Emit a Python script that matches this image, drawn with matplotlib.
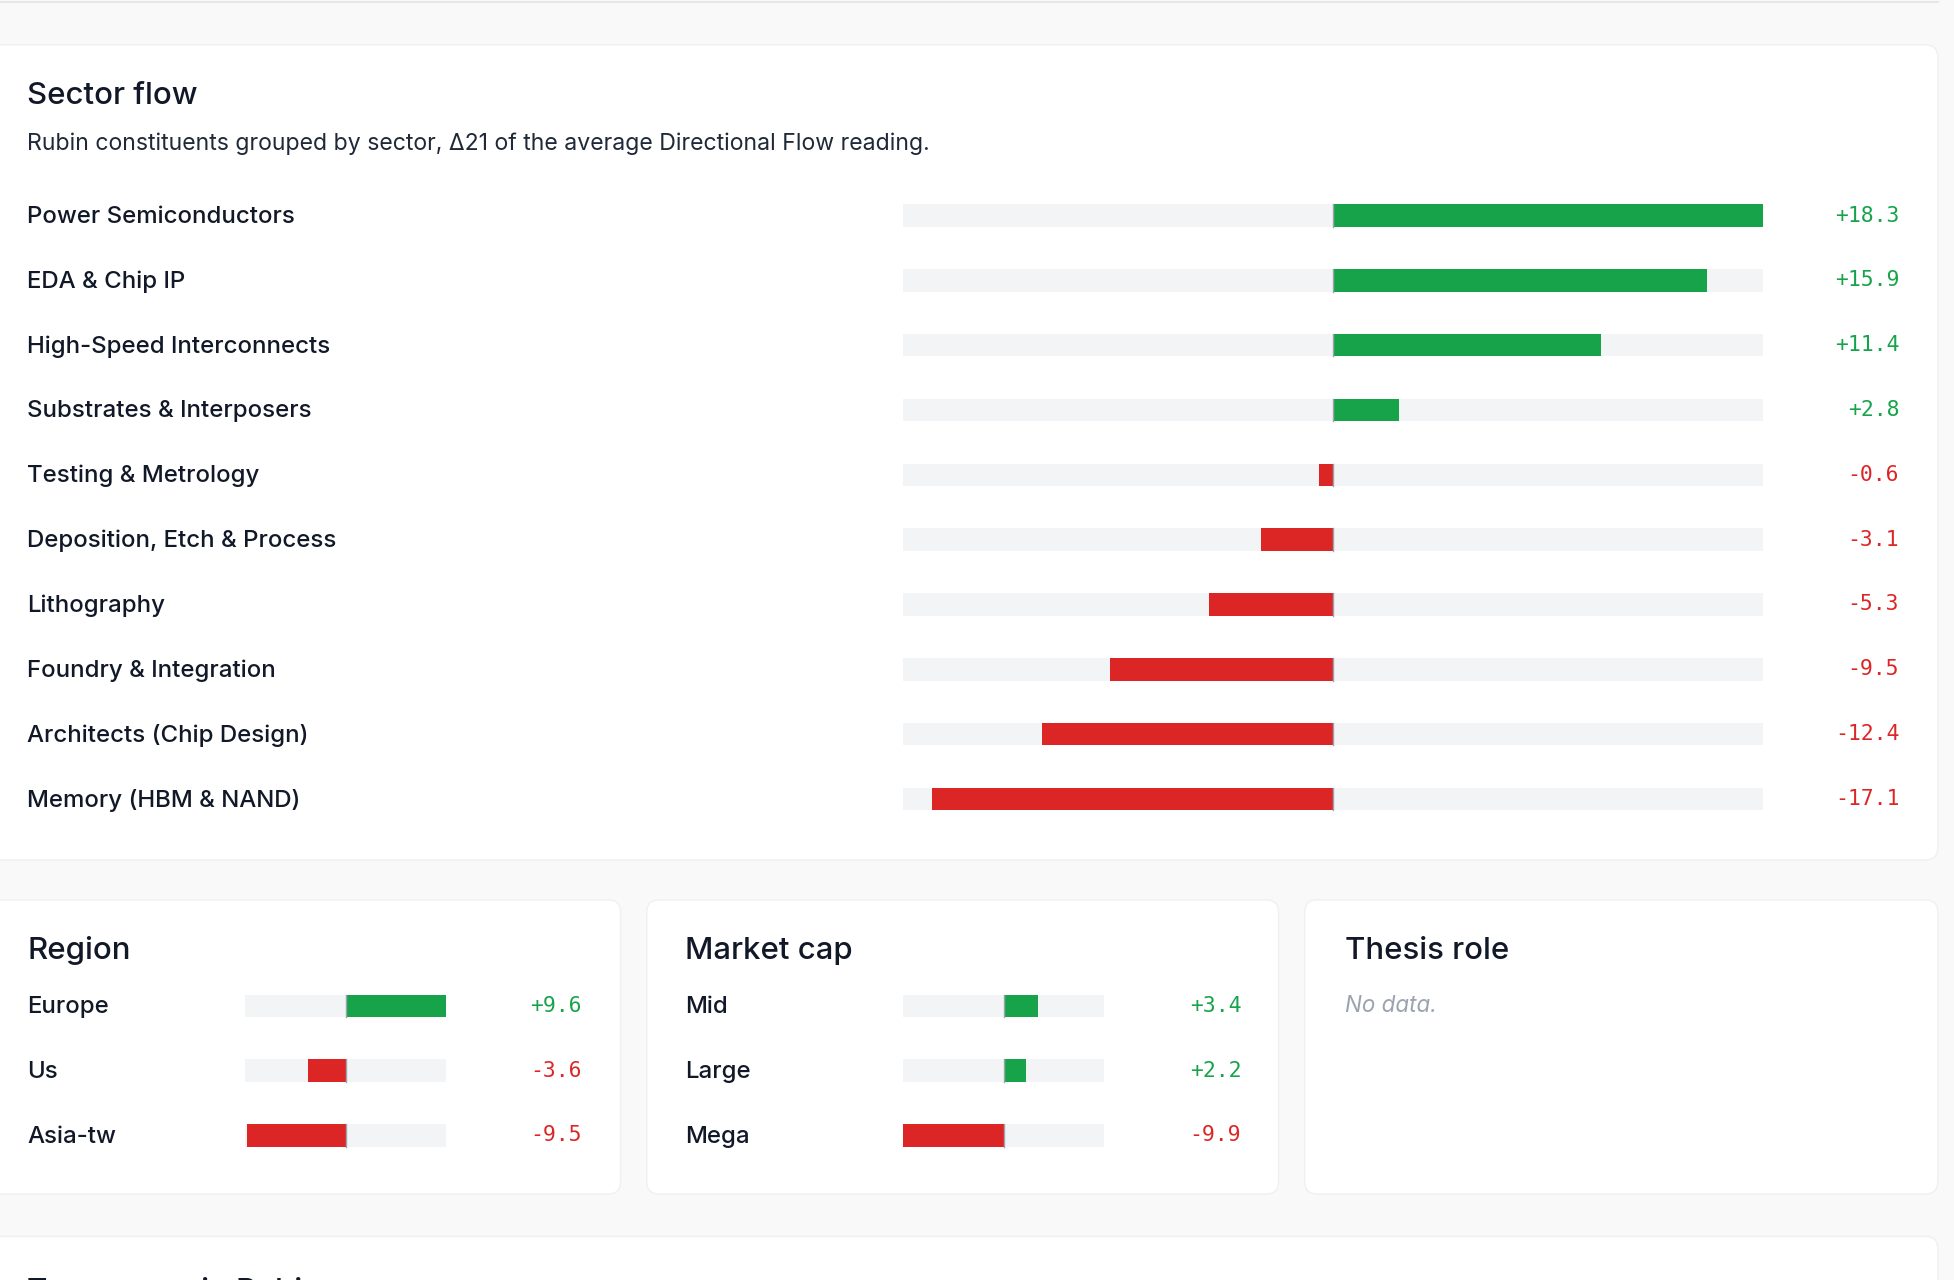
import matplotlib
matplotlib.use("Agg")
import matplotlib.pyplot as plt
from matplotlib.patches import FancyBboxPatch
from matplotlib.transforms import blended_transform_factory

sector_labels = ["Power Semiconductors", "EDA & Chip IP", "High-Speed Interconnects",
                 "Substrates & Interposers", "Testing & Metrology", "Deposition, Etch & Process",
                 "Lithography", "Foundry & Integration", "Architects (Chip Design)", "Memory (HBM & NAND)"]
sector_values = [18.3, 15.9, 11.4, 2.8, -0.6, -3.1, -5.3, -9.5, -12.4, -17.1]
region_labels = ["Europe", "Us", "Asia-tw"]
region_values = [9.6, -3.6, -9.5]
mcap_labels = ["Mid", "Large", "Mega"]
mcap_values = [3.4, 2.2, -9.9]

W, H = 1568, 1027
GREEN, RED, TRACK = "#16a34a", "#dc2626", "#f3f4f6"
FONT = "Inter"
fig = plt.figure(figsize=(19.54, 12.80), dpi=100)
fig.patch.set_facecolor("#f9f9f9")
bg = fig.add_axes([0, 0, 1, 1])
bg.set_xlim(0, W); bg.set_ylim(H, 0); bg.axis("off")

def card(x0, y0, x1, y1):
    bg.add_patch(FancyBboxPatch((x0, y0), x1 - x0, y1 - y0, boxstyle="round,pad=0,rounding_size=10",
                                fc="white", ec="#f0f0f0", lw=1))
card(-20, 36, 1555, 690)
card(-20, 722, 498, 958)
card(519, 722, 1026, 958)
card(1047, 722, 1555, 958)
card(-20, 992, 1555, 1100)
bg.plot([0, 1555], [2, 2], color="#e5e7eb", lw=1.5)

def fs(px):  # display px -> points
    return px * 1.246 * 0.72

bg.text(22, 77, "Sector flow", fontsize=fs(25), family=FONT, weight="medium", va="center", color="#111827")
bg.text(22, 115, "Rubin constituents grouped by sector, Δ21 of the average Directional Flow reading.",
        fontsize=fs(18.5), family=FONT, va="center", color="#1f2937")
bg.text(22, 763, "Region", fontsize=fs(25), family=FONT, weight="medium", va="center", color="#111827")
bg.text(550, 763, "Market cap", fontsize=fs(25), family=FONT, weight="medium", va="center", color="#111827")
bg.text(1079, 763, "Thesis role", fontsize=fs(25), family=FONT, weight="medium", va="center", color="#111827")
bg.text(1079, 807, "No data.", fontsize=fs(18), family=FONT, style="italic", va="center", color="#9ca3af")
bg.text(22, 1036, "Top names in Rubin", fontsize=fs(25), family=FONT, weight="medium", va="center", color="#111827")

def group(labels, values, track_x0, track_x1, y_first, spacing, label_x, value_x):
    n = len(labels)
    top = y_first - spacing / 2
    bottom = y_first + spacing * (n - 0.5)
    ax = fig.add_axes([track_x0 / W, 1 - bottom / H, (track_x1 - track_x0) / W, (bottom - top) / H])
    m = max(abs(v) for v in values)
    ax.set_xlim(-m, m); ax.set_ylim(n - 0.5, -0.5); ax.axis("off")
    h = 18 / spacing
    ys = list(range(n))
    ax.barh(ys, [2 * m] * n, left=-m, height=h, color=TRACK)
    ax.barh(ys, values, height=h, color=[GREEN if v >= 0 else RED for v in values])
    for y in ys:
        ax.plot([0, 0], [y - h / 2, y + h / 2], color="#9ca3af", lw=1)
    tr = blended_transform_factory(bg.transData, ax.transData)
    for y, lab, v in zip(ys, labels, values):
        bg.text(label_x, y + 0.02, lab, transform=tr, fontsize=fs(19.3), family=FONT, weight="medium",
                va="center", color="#111827")
        bg.text(value_x, y, f"{v:+.1f}", transform=tr, fontsize=fs(17.2), family="DejaVu Sans Mono",
                va="center", ha="right", color=GREEN if v >= 0 else RED)

group(sector_labels, sector_values, 725, 1415, 173, 52, 22, 1524)
group(region_labels, region_values, 197, 358, 807, 52, 22, 467)
group(mcap_labels, mcap_values, 725, 886, 807, 52, 550, 996)

fig.savefig("out.png", dpi=100, facecolor=fig.get_facecolor())
